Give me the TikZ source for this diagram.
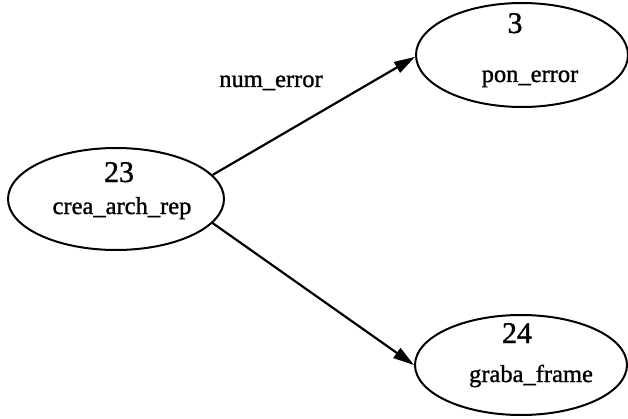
\documentclass[tikz,border=0pt]{standalone}
\usepackage{fontspec}
\setmainfont[FakeBold=1.2]{Liberation Serif}
\usetikzlibrary{shapes.geometric,arrows.meta}
\begin{document}
\begin{tikzpicture}[x=1pt,y=1pt,
  nodebox/.style={draw=black,line width=2pt,ellipse,inner sep=0pt},
  numtxt/.style={anchor=base,inner sep=0pt,font=\fontsize{30}{30}\selectfont},
  labtxt/.style={anchor=base,inner sep=0pt,font=\fontsize{24.5}{24.5}\selectfont},
  edge/.style={draw=black,line width=2.2pt,-{Triangle[length=21pt,width=12pt]}}]
\useasboundingbox (0,0) rectangle (628,418);
% left node
\node[nodebox,minimum width=216pt,minimum height=102pt] (a) at (116,219) {};
\node[numtxt] (a1) at (119,236) {23};
\node[labtxt] (a2) at (122,204) {crea\_arch\_rep};
% top node
\node[nodebox,minimum width=212pt,minimum height=104pt] (b) at (522,363) {};
\node[numtxt] (b1) at (515,385) {3};
\node[labtxt] (b2) at (530,336) {pon\_error};
% bottom node
\node[nodebox,minimum width=212pt,minimum height=100pt] (c) at (521,53) {};
\node[numtxt] (c1) at (517,75) {24};
\node[labtxt] (c2) at (531,36) {graba\_frame};
% edges
\draw[edge] (a.14) -- (b.181);
\draw[edge] (a.346) -- (c.180);
\node[labtxt] (l1) at (271,331) {num\_error};
\end{tikzpicture}
\end{document}
